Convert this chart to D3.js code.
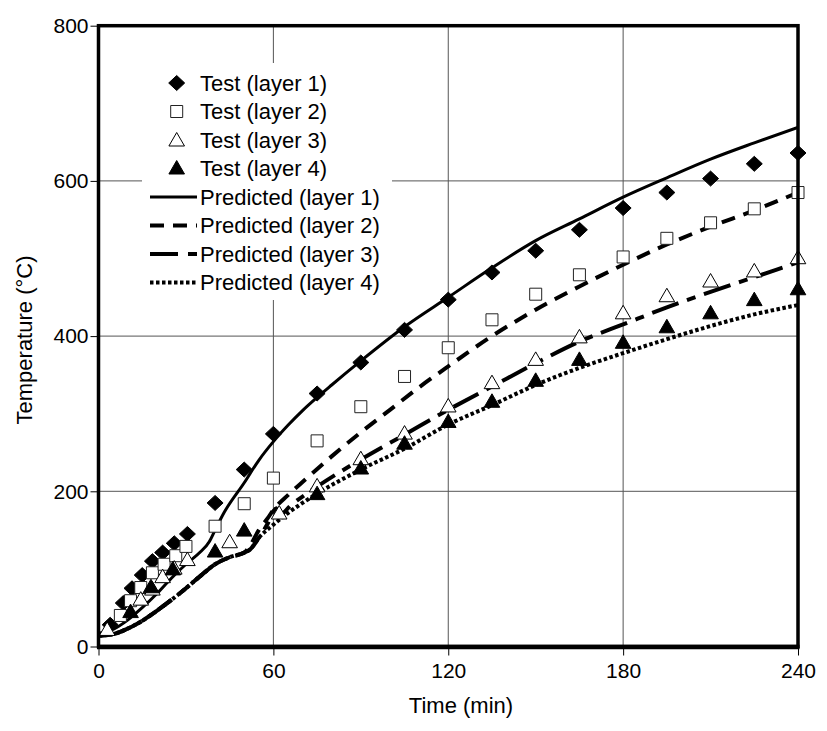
<!DOCTYPE html>
<html>
<head>
<meta charset="utf-8">
<script src="https://cdn.jsdelivr.net/npm/d3@7"></script>
<style>
  body { margin: 0; background: #fff; }
  text { font-family: "Liberation Sans", Arial, sans-serif; fill: #000; }
</style>
</head>
<body>
<svg id="chart" width="827" height="731"></svg>
<script>
// Axis ticks
const xTicks = [0, 60, 120, 180, 240];
const yTicks = [0, 200, 400, 600, 800];

// Measured temperatures [time (min), temperature (°C)]
const test1 = [[4,28],[8.5,56],[11.5,75],[15,92],[18.5,110],[22,121],[26,133],[30.5,145],
  [40,185],[50,228],[60,274],[75,326],[90,366],[105,408],[120,447],[135,482],[150,510],
  [165,537],[180,565],[195,585],[210,603],[225,622],[240,636]];
const test2 = [[7.5,40],[11,59],[14.5,76],[18.5,95],[22.5,106],[26.5,117],[30,129],
  [40,155],[50,184],[60,217],[75,265],[90,309],[105,348],[120,385],[135,421],[150,454],
  [165,479],[180,502],[195,526],[210,546],[225,564],[240,585]];
const test3 = [[3,22],[14.5,61],[18.5,74],[22,90],[26,101],[30.5,112],[45,135],[62,172],
  [75,207],[90,242],[105,275],[120,310],[135,340],[150,370],[165,399],[180,430],
  [195,452],[210,471],[225,484],[240,501]];
const test4 = [[11,45],[18,77],[25.5,100],[40,123],[50,150],[75,197],[90,230],[105,262],
  [120,290],[135,316],[150,343],[165,370],[180,392],[195,412],[210,430],[225,447],[240,461]];

// Predicted temperatures
const pred1 = [[0,17],[5,22],[10,34],[15,50],[20,68],[25,88],[30,106],[35,122],[38,135],
  [40,150],[43,172],[50,211],[55,240],[60,264],[65,285],[70,304],[75,321],[80,337],
  [90,368],[105,412],[120,450],[135,488],[150,523],[165,551],[180,579],[195,604],
  [210,628],[225,649],[240,669]];
const pred2 = [[0,14],[5,16],[10,23],[15,33],[20,46],[25,60],[30,75],[35,91],[40,106],
  [45,115],[50,121],[52,130],[55,150],[58,165],[60,176],[65,195],[70,212],[80,245],
  [90,276],[100,305],[110,334],[120,361],[135,400],[150,434],[165,464],[180,492],
  [195,518],[210,541],[225,562],[240,585]];
const pred3 = [[0,14],[5,16],[10,23],[15,33],[20,46],[25,60],[30,75],[35,91],[40,106],
  [45,115],[50,121],[52,125],[55,140],[58,158],[61,178],[62,169],[66,182],[75,206],
  [90,241],[105,273],[120,305],[135,335],[150,365],[165,393],[180,415],[195,437],
  [210,457],[225,476],[240,495]];
const pred4 = [[0,14],[5,16],[10,23],[15,33],[20,46],[25,60],[30,75],[35,91],[40,106],
  [45,115],[50,121],[52,125],[55,140],[60,157],[65,172],[70,185],[75,197],[90,228],
  [105,255],[120,286],[135,311],[150,337],[165,359],[180,378],[195,396],[210,413],
  [225,428],[240,440]];

const testLabels = ["Test (layer 1)", "Test (layer 2)", "Test (layer 3)", "Test (layer 4)"];
const predLabels = ["Predicted (layer 1)", "Predicted (layer 2)", "Predicted (layer 3)", "Predicted (layer 4)"];

const svg = d3.select("#chart");
svg.append("rect").attr("width", 827).attr("height", 731).attr("fill", "#fff");

const x = d3.scaleLinear().domain([0, 240]).range([98.5, 798]);
const y = d3.scaleLinear().domain([0, 800]).range([646.5, 25.7]);

// grid
const grid = svg.append("g");
grid.selectAll(".gx").data(xTicks.slice(1, -1)).join("line")
  .attr("x1", d => x(d)).attr("x2", d => x(d))
  .attr("y1", y(800)).attr("y2", y(0))
  .attr("stroke", "#555").attr("stroke-width", 1);
grid.selectAll(".gy").data(yTicks.slice(1, -1)).join("line")
  .attr("x1", x(0)).attr("x2", x(240))
  .attr("y1", d => y(d)).attr("y2", d => y(d))
  .attr("stroke", "#555").attr("stroke-width", 1);

// legend background covers the grid
svg.append("rect").attr("x", 142).attr("y", 63).attr("width", 250).attr("height", 237).attr("fill", "#fff");

// axes
const fontTick = "21px";
const ax = svg.append("g").attr("transform", `translate(0,${y(0)})`)
  .call(d3.axisBottom(x).tickValues(xTicks).tickSize(9).tickPadding(8).tickFormat(d3.format("d")));
ax.select(".domain").remove();
ax.selectAll("text").style("font-size", fontTick).attr("fill", "#000");
ax.selectAll("line").attr("stroke", "#000");

const ay = svg.append("g").attr("transform", `translate(${x(0)},0)`)
  .call(d3.axisLeft(y).tickValues(yTicks).tickSize(8).tickPadding(2).tickFormat(d3.format("d")));
ay.select(".domain").remove();
ay.selectAll("text").style("font-size", fontTick).attr("fill", "#000");
ay.selectAll("line").attr("stroke", "#000");

// clip to plot area
svg.append("clipPath").attr("id", "plotclip").append("rect")
  .attr("x", x(0)).attr("y", y(800)).attr("width", x(240) - x(0)).attr("height", y(0) - y(800));

const line = d3.line().x(d => x(d[0])).y(d => y(d[1])).curve(d3.curveMonotoneX);

const lineStyles = [
  { dash: null, width: 3 },
  { dash: "14,9", width: 4 },
  { dash: "28,9,9,9", width: 4 },
  { dash: "3.5,2.5", width: 4 }
];
const preds = [pred1, pred2, pred3, pred4];

const plot = svg.append("g").attr("clip-path", "url(#plotclip)");
[3, 2, 1, 0].forEach(i => {
  plot.append("path").datum(preds[i]).attr("d", line)
    .attr("fill", "none").attr("stroke", "#000")
    .attr("stroke-width", lineStyles[i].width)
    .attr("stroke-dasharray", lineStyles[i].dash);
});

// marker shapes
const markerPath = [
  () => "M0,-7.5L8,0L0,7.5L-8,0Z",
  () => "M-6,-6H6V6H-6Z",
  () => "M0,-7.5L7.8,6L-7.8,6Z",
  () => "M0,-7.5L7.8,6L-7.8,6Z"
];
const markerFill = ["#000", "#fff", "#fff", "#000"];
const markerStroke = ["#000", "#222", "#000", "#000"];
const tests = [test1, test2, test3, test4];

const marks = svg.append("g");
tests.forEach((data, i) => {
  marks.selectAll(null).data(data).join("path")
    .attr("transform", d => `translate(${x(d[0])},${y(d[1])})`)
    .attr("d", markerPath[i]())
    .attr("fill", markerFill[i]).attr("stroke", markerStroke[i]).attr("stroke-width", 1);
});

// frame
svg.append("rect").attr("x", x(0)).attr("y", y(800))
  .attr("width", x(240) - x(0)).attr("height", y(0) - y(800))
  .attr("fill", "none").attr("stroke", "#000").attr("stroke-width", 3.5);
svg.append("line").attr("x1", x(0) - 1.5).attr("x2", x(240) + 1.5)
  .attr("y1", y(0) + 0.5).attr("y2", y(0) + 0.5).attr("stroke", "#000").attr("stroke-width", 4.5);

// legend
const legend = svg.append("g");
const rowY = [83, 111.5, 140, 168, 197, 225.5, 254, 282.5];
testLabels.forEach((label, i) => {
  legend.append("path").attr("transform", `translate(176.7,${rowY[i]})`)
    .attr("d", markerPath[i]())
    .attr("fill", markerFill[i]).attr("stroke", markerStroke[i]).attr("stroke-width", 1);
  legend.append("text").attr("x", 200).attr("y", rowY[i]).attr("dy", "0.36em")
    .style("font-size", "22px").text(label);
});
predLabels.forEach((label, i) => {
  const yy = rowY[i + 4];
  legend.append("line").attr("x1", 150).attr("x2", 197).attr("y1", yy).attr("y2", yy)
    .attr("stroke", "#000").attr("stroke-width", lineStyles[i].width)
    .attr("stroke-dasharray", i === 2 ? "28,10,9,9" : lineStyles[i].dash);
  legend.append("text").attr("x", 200).attr("y", yy).attr("dy", "0.36em")
    .style("font-size", "22px").text(label);
});

// axis titles
svg.append("text").attr("x", 461).attr("y", 713).attr("text-anchor", "middle")
  .style("font-size", "22px").text("Time (min)");
svg.append("text").attr("transform", "translate(32,340) rotate(-90)")
  .attr("text-anchor", "middle").style("font-size", "22px").text("Temperature (°C)");
</script>
</body>
</html>
